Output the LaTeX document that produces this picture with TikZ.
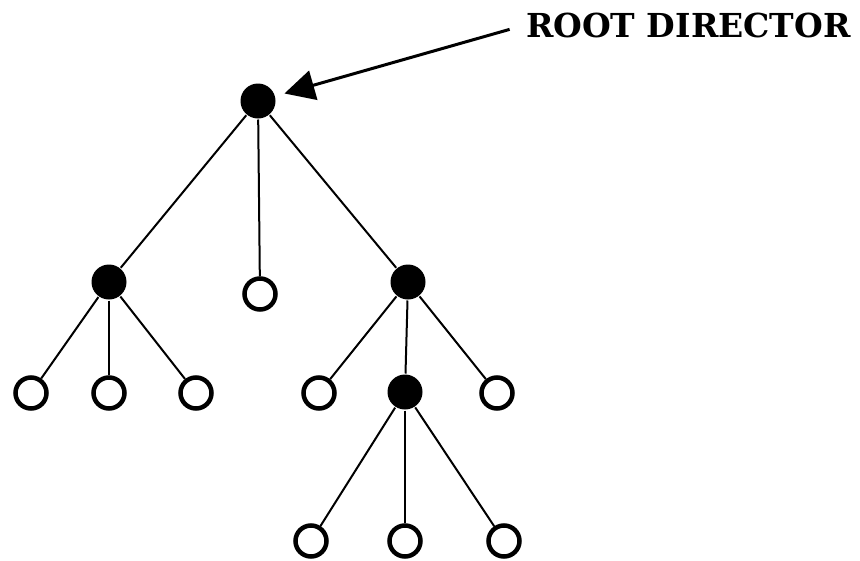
\documentclass[tikz,border=0pt]{standalone}
\usepackage{fontspec}
\setmainfont{DejaVu Serif}
\usetikzlibrary{arrows.meta,positioning}

\begin{document}
\begin{tikzpicture}[line width=2pt,on grid,auto]
        \tikzstyle{dirnode}=[circle,fill=black,inner sep=0pt,minimum size=35pt]
        \tikzstyle{leafnode}=[circle,draw,line width=4.5pt,fill=white,inner sep=0pt,minimum size=31pt]

        \useasboundingbox (0,0) rectangle (860pt,-560pt);

        \node[dirnode]  (root) at (258pt,-101pt) {};
        \node[dirnode]  (d1) [below left=181pt and 149pt of root] {};
        \node[leafnode] (f1) [below right=193pt and 2pt of root] {};
        \node[dirnode]  (d2) [below right=181pt and 150pt of root] {};

        \node[leafnode] (f11) [below left=111pt and 78pt of d1] {};
        \node[leafnode] (f12) [below=111pt of d1] {};
        \node[leafnode] (f13) [below right=111pt and 87pt of d1] {};

        \node[leafnode] (f21) [below left=111pt and 89pt of d2] {};
        \node[dirnode]  (d3)  [below left=110pt and 3pt of d2] {};
        \node[leafnode] (f22) [below right=111pt and 89pt of d2] {};

        \node[leafnode] (f31) [below left=149pt and 94pt of d3] {};
        \node[leafnode] (f32) [below=149pt of d3] {};
        \node[leafnode] (f33) [below right=149pt and 99pt of d3] {};

        \node[font=\bfseries\fontsize{33}{33}\selectfont,anchor=west,inner sep=0pt]
            (lbl) at (525pt,-25pt) {ROOT DIRECTOR};

        \path[draw]
            (root) edge (d1)
            (root) edge (f1)
            (root) edge (d2)

            (d1) edge (f11)
            (d1) edge (f12)
            (d1) edge (f13)

            (d2) edge (f21)
            (d2) edge (d3)
            (d2) edge (f22)

            (d3) edge (f31)
            (d3) edge (f32)
            (d3) edge (f33)
        ;

        \draw[-{Triangle[length=30pt,width=30pt]},line width=3pt,
              shorten <=16pt,shorten >=9pt] (lbl.west) -- (root);
    \end{tikzpicture}
\end{document}
